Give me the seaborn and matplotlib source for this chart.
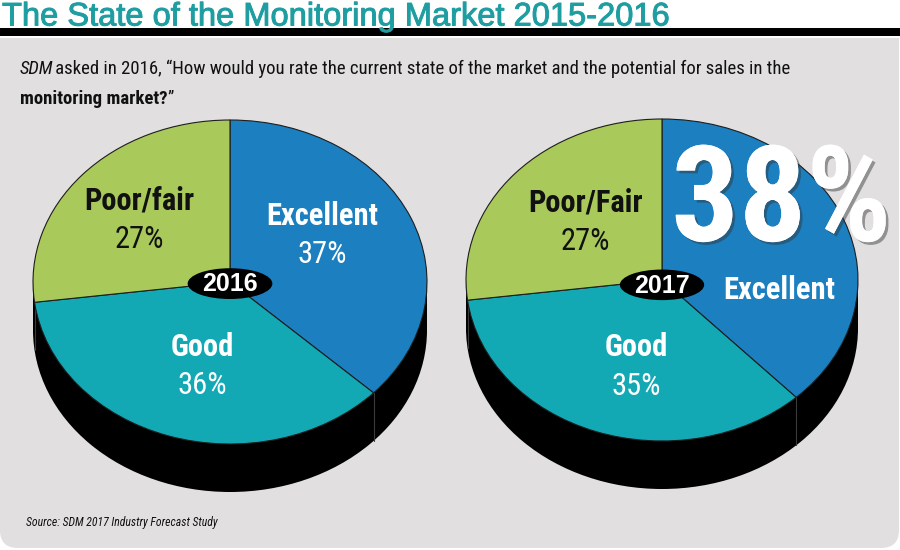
import matplotlib
matplotlib.use("Agg")
import numpy as np
import matplotlib.pyplot as plt
import matplotlib.patheffects as pe
from matplotlib import font_manager
from matplotlib.patches import Ellipse, Rectangle, FancyBboxPatch
import seaborn as sns

# ── Data ──────────────────────────────────────────────────────────────────────
CATEGORIES_2016 = ["Excellent", "Good", "Poor/fair"]
CATEGORIES_2017 = ["Excellent", "Good", "Poor/Fair"]
SHARE_2016 = [37, 36, 27]
SHARE_2017 = [38, 35, 27]
YEARS = ["2016", "2017"]

TITLE = "The State of the Monitoring Market 2015-2016"
QUESTION_1 = " asked in 2016, \u201cHow would you rate the current state of the market and the potential for sales in the"
QUESTION_2 = "monitoring market?"
SOURCE = "Source: SDM 2017 Industry Forecast Study"

# ── Style ─────────────────────────────────────────────────────────────────────
PALETTE = sns.color_palette(["#1b7fc0", "#12a9b5", "#a9c95a"])
TEXT_COLORS = ["white", "white", "#111111"]
PANEL = "#e1dfe0"
TEAL = "#1f9ea1"

sns.set_theme(style="white")


def pick(*names):
    for n in names:
        try:
            font_manager.findfont(n, fallback_to_default=False)
            return n
        except ValueError:
            pass
    return "DejaVu Sans"


NARROW = pick("Liberation Sans Narrow", "Roboto Condensed", "Liberation Sans")
WIDE = pick("Liberation Sans", "Roboto")
plt.rcParams["font.family"] = [NARROW, "DejaVu Sans"]

W, H = 900, 550
DEPTH = 48
PIES = [(230, 282, 197, 162), (662, 280, 196, 161)]  # cx, cy, a, b in px
# label anchors in pie units (x / a, y / b), slice order Excellent, Good, Poor
LABEL_POS = [
    [(0.47, 0.29), (-0.14, -0.52), (-0.46, 0.38)],
    [(0.60, -0.06), (-0.13, -0.54), (-0.39, 0.36)],
]
YEAR_POS = [(0, -0.01), (0, -0.03)]

fig = plt.figure(figsize=(9, 5.5), dpi=100)
fig.patch.set_facecolor("white")
ax = fig.add_axes([0, 0, 1, 1])
ax.set_xlim(0, W)
ax.set_ylim(H, 0)
ax.axis("off")

# background panel + header bar
ax.add_patch(FancyBboxPatch((0, 38), 899, 510, boxstyle="round,pad=0,rounding_size=18",
                            facecolor=PANEL, edgecolor="none"))
ax.add_patch(Rectangle((0, 38), 899, 40, facecolor=PANEL, edgecolor="none"))
ax.add_patch(Rectangle((0, 28), W, 8, facecolor="black", edgecolor="none"))

ax.text(2, 25.5, TITLE, fontsize=23.5, color=TEAL, family=[WIDE], va="baseline", ha="left",
        path_effects=[pe.withStroke(linewidth=0.7, foreground=TEAL)])

t = ax.text(20, 74, "SDM", fontsize=13.5, style="italic", color="#111111", va="baseline")
ax.annotate(QUESTION_1, xycoords=t, xy=(1, 0), xytext=(-2, 0), textcoords="offset points",
            va="bottom", fontsize=13.5, color="#111111")
t = ax.text(20, 104, QUESTION_2, fontsize=13.5, weight="bold", color="#111111", va="baseline")
ax.annotate("\u201d", xycoords=t, xy=(1, 0), va="bottom", fontsize=13.5, color="#111111")

ax.text(26, 526, SOURCE, fontsize=8.5, style="italic", color="#111111", va="baseline")


def draw_pie(k, shares, labels, year, big=False):
    cx, cy, a, b = PIES[k]
    d = DEPTH / b
    pad = 0.02
    x0, x1 = -1 - pad, 1 + pad
    y0, y1 = -1 - d - pad, 1 + pad
    pax = fig.add_axes([(cx + x0 * a) / W, 1 - (cy - y0 * b) / H,
                        (x1 - x0) * a / W, (y1 - y0) * b / H])
    pax.add_patch(Ellipse((0, -d), 2, 2, facecolor="black", edgecolor="none", zorder=0))
    pax.add_patch(Rectangle((-1, -d), 2, d, facecolor="black", edgecolor="none", zorder=0))
    pax.pie(shares, colors=PALETTE, startangle=90, counterclock=False, radius=1,
            wedgeprops=dict(edgecolor="#1e1e1e", linewidth=0.8))
    pax.set_aspect("auto")
    pax.set_xlim(x0, x1)
    pax.set_ylim(y0, y1)
    pax.axis("off")

    cum = np.cumsum([0] + list(shares)) / 100 * 2 * np.pi
    # slice edges continuing down the black side
    for th in cum[1:-1]:
        if np.cos(th) < 0:
            pax.plot([np.sin(th)] * 2, [np.cos(th), np.cos(th) - d], color="#3a3a3a", lw=0.8, zorder=0.5)

    for i, (lab, val) in enumerate(zip(labels, shares)):
        px, py = LABEL_POS[k][i]
        col = TEXT_COLORS[i]
        if big and i == 0:
            pax.text(0.61, 0.47, f"{val}%", fontsize=96, weight="bold", color="white",
                     ha="center", va="center", zorder=6,
                     path_effects=[pe.withSimplePatchShadow(offset=(2, -2), shadow_rgbFace="#333333", alpha=0.45),
                                   pe.Normal()])
            pax.text(px, py, lab, fontsize=22, weight="bold", color="white",
                     ha="center", va="center", zorder=6)
            continue
        pax.annotate(lab, (px, py), xytext=(0, 14), textcoords="offset points",
                     fontsize=22, weight="bold", color=col, ha="center", va="center", zorder=6)
        pax.annotate(f"{val}%", (px, py), xytext=(0, -14), textcoords="offset points",
                     fontsize=22, color=col, ha="center", va="center", zorder=6)

    yx, yy = YEAR_POS[k]
    pax.add_patch(Ellipse((yx, yy), 0.43, 0.19, facecolor="black", edgecolor="none", zorder=5))
    pax.text(yx, yy - 0.005, year, fontsize=18, weight="bold", color="white", family=[WIDE],
             ha="center", va="center", zorder=6)


draw_pie(0, SHARE_2016, CATEGORIES_2016, YEARS[0])
draw_pie(1, SHARE_2017, CATEGORIES_2017, YEARS[1], big=True)

fig.savefig("out.png", dpi=100, facecolor=fig.get_facecolor())
plt.close(fig)
